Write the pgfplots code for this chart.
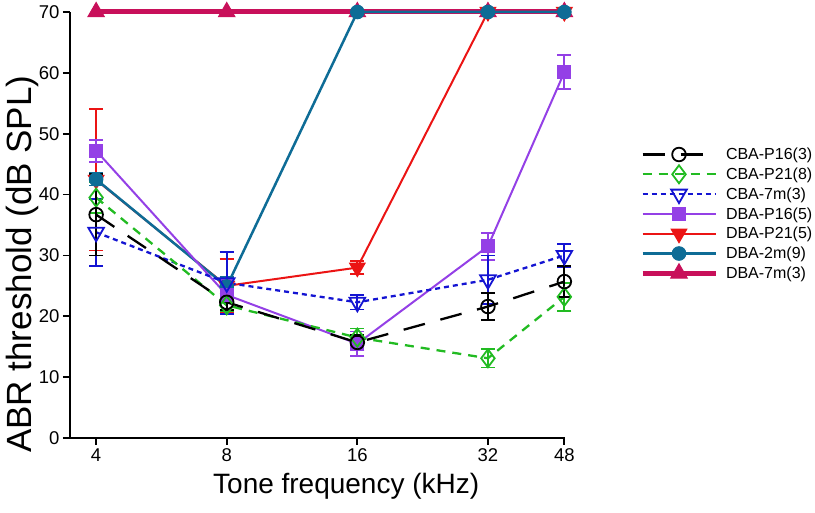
\documentclass[border=0pt]{standalone}
\usepackage{pgfplots}
\pgfplotsset{compat=1.18}
\usepackage{fontspec}
\setmainfont{Liberation Sans}
\definecolor{cgreen}{RGB}{34,187,34}
\definecolor{cblue}{RGB}{20,20,210}
\definecolor{cpurple}{RGB}{148,64,230}
\definecolor{cred}{RGB}{235,20,20}
\definecolor{cteal}{RGB}{14,108,150}
\definecolor{ccrim}{RGB}{200,16,90}
\begin{document}
\begin{tikzpicture}
\path[use as bounding box] (-70pt,-75pt) rectangle (745pt,438pt);
\begin{axis}[
  at={(0,0)}, anchor=south west,
  scale only axis, width=495pt, height=426pt,
  xmin=1.8, xmax=5.59, ymin=0, ymax=70,
  clip=false,
  axis x line*=bottom, axis y line*=left,
  axis line style={-, line width=1.8pt},
  tick align=outside, major tick length=7pt,
  tick style={line width=1.8pt, black},
  xtick={2,3,4,5,5.585}, xticklabels={4,8,16,32,48},
  ytick={0,10,...,70},
  /pgf/number format/assume math mode=true,
  tick label style={font=\fontsize{18.5}{20}\selectfont},
  xlabel={Tone frequency (kHz)},
  ylabel={ABR threshold (dB SPL)},
  xlabel style={font=\fontsize{28}{30}\selectfont, at={(axis description cs:0.558,0)}, anchor=north, yshift=-32pt},
  ylabel style={font=\fontsize{35}{37}\selectfont, at={(axis description cs:0,0.408)}, anchor=south, yshift=28pt},
  legend image code/.code={\draw[mark repeat=2,mark phase=2,#1] plot coordinates {(0pt,0pt)(36.5pt,0pt)(73pt,0pt)};},
  legend style={at={(1.1515,0.6887)}, anchor=north west, draw=none, fill=none,
    inner sep=0pt, outer sep=0pt, column sep=8pt, row sep=0pt,
    font=\fontsize{16}{18}\selectfont,
    nodes={inner sep=0pt, text height=15pt, text depth=4.8pt}},
  legend cell align=left,
  error bars/y dir=both, error bars/y explicit,
  error bars/error bar style={solid, line width=1.8pt},
  error bars/error mark options={rotate=90, mark size=7pt, line width=1.8pt, solid},
]
% crimson DBA-7m(3)
\addplot[ccrim, line width=5pt, mark=triangle*, mark size=9.5pt, mark options={solid, line width=1pt}, forget plot]
  coordinates {(2,70) (3,70) (4,70) (5,70) (5.585,70)};
% red DBA-P21(5)
\addplot[cred, line width=2pt, mark=triangle*, mark size=9pt, mark options={solid, rotate=180, line width=1pt}, forget plot]
  coordinates {(2,42.4) +- (0,11.6) (3,25) +- (0,4.4) (4,28) +- (0,1.1) (5,70) +- (0,0) (5.585,70) +- (0,0)};
% teal DBA-2m(9)
\addplot[cteal, line width=2.5pt, mark=*, mark size=6.8pt, mark options={solid, line width=1pt}, forget plot]
  coordinates {(2,42.5) +- (0,1) (3,24.9) +- (0,1.5) (4,70) +- (0,0) (5,70) +- (0,0) (5.585,70) +- (0,0)};
% purple DBA-P16(5)
\addplot[cpurple, line width=2pt, mark=square*, mark size=6.5pt, mark options={solid, line width=1pt}, forget plot]
  coordinates {(2,47.2) +- (0,1.8) (3,23.5) +- (0,2.5) (4,15.5) +- (0,2) (5,31.5) +- (0,2.2) (5.585,60.1) +- (0,2.8)};
% blue CBA-7m(3)
\addplot[cblue, line width=2.3pt, dash pattern=on 5pt off 4pt, mark=triangle, mark size=9pt, mark options={solid, rotate=180, line width=1.8pt}, forget plot]
  coordinates {(2,33.8) +- (0,5.5) (3,25.5) +- (0,5.1) (4,22.3) +- (0,1.2) (5,26) +- (0,4) (5.585,30) +- (0,1.9)};
% green CBA-P21(8)
\addplot[cgreen, line width=2.3pt, dash pattern=on 9pt off 7pt, mark=diamond, mark size=9pt, mark options={solid, line width=1.8pt}, forget plot]
  coordinates {(2,39.5) +- (0,2.5) (3,21.8) +- (0,1) (4,16.5) +- (0,1.5) (5,13.1) +- (0,1.5) (5.585,23.2) +- (0,2.3)};
% black CBA-P16(3)
\addplot[black, line width=2.3pt, dash pattern=on 22pt off 16pt, mark=o, mark size=6.8pt, mark options={solid, line width=1.8pt}, forget plot]
  coordinates {(2,36.7) +- (0,6.7) (3,22.3) +- (0,1.3) (4,15.7) +- (0,1.2) (5,21.6) +- (0,2.2) (5.585,25.7) +- (0,2.5)};
% legend
\addlegendimage{black, line width=2.3pt, dash pattern=on 22pt off 16pt, mark=o, mark size=6.8pt, mark options={solid, line width=1.8pt}}
\addlegendentry{CBA-P16(3)}
\addlegendimage{cgreen, line width=2.3pt, dash pattern=on 9pt off 7pt, mark=diamond, mark size=9pt, mark options={solid, line width=1.8pt}}
\addlegendentry{CBA-P21(8)}
\addlegendimage{cblue, line width=2.3pt, dash pattern=on 5pt off 4pt, mark=triangle, mark size=9pt, mark options={solid, rotate=180, line width=1.8pt}}
\addlegendentry{CBA-7m(3)}
\addlegendimage{cpurple, line width=2pt, mark=square*, mark size=6.5pt, mark options={solid, line width=1pt}}
\addlegendentry{DBA-P16(5)}
\addlegendimage{cred, line width=2pt, mark=triangle*, mark size=9pt, mark options={solid, rotate=180, line width=1pt}}
\addlegendentry{DBA-P21(5)}
\addlegendimage{cteal, line width=2.5pt, mark=*, mark size=6.8pt, mark options={solid, line width=1pt}}
\addlegendentry{DBA-2m(9)}
\addlegendimage{ccrim, line width=5pt, mark=triangle*, mark size=9.5pt, mark options={solid, line width=1pt}}
\addlegendentry{DBA-7m(3)}
\end{axis}
\end{tikzpicture}
\end{document}
